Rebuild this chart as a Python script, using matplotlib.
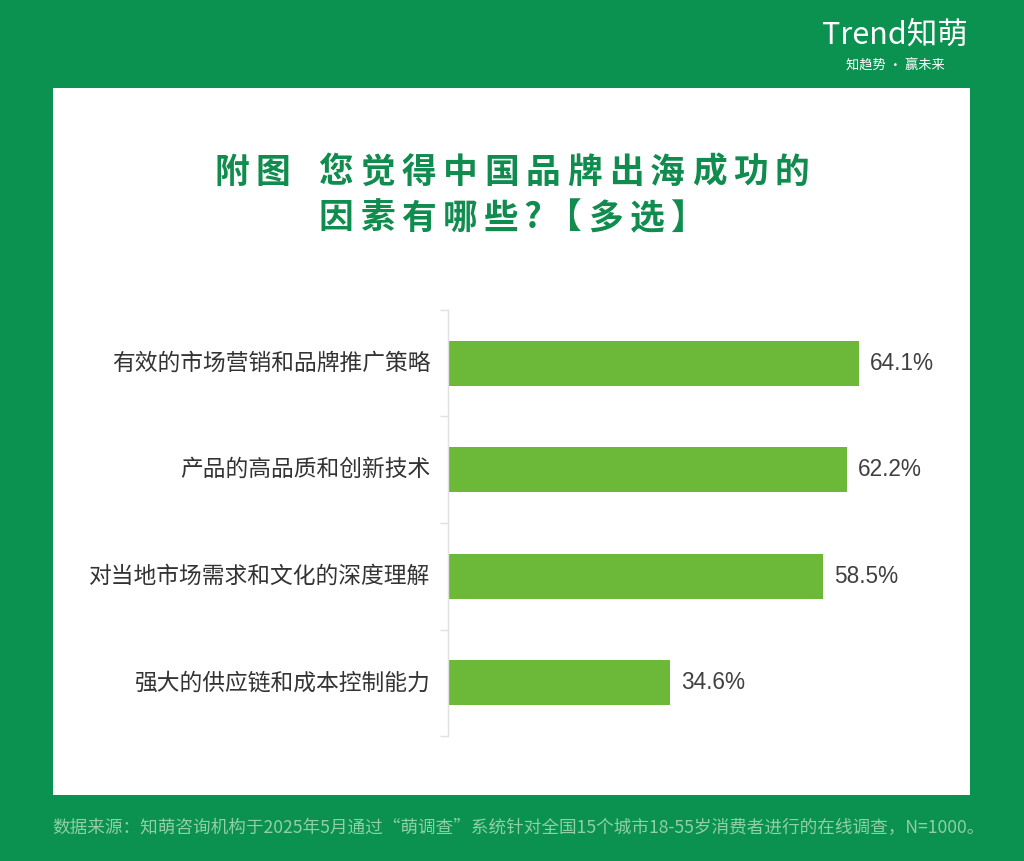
import matplotlib
matplotlib.use("Agg")
import matplotlib.pyplot as plt
from matplotlib.patches import Rectangle

plt.rcParams['font.family'] = ['Noto Sans CJK SC', 'DejaVu Sans']

categories = ["有效的市场营销和品牌推广策略", "产品的高品质和创新技术",
              "对当地市场需求和文化的深度理解", "强大的供应链和成本控制能力"]
values = [64.1, 62.2, 58.5, 34.6]
value_labels = ["64.1%", "62.2%", "58.5%", "34.6%"]
title_lines = ["附图 您觉得中国品牌出海成功的", "因素有哪些?【多选】"]
footer = "数据来源：知萌咨询机构于2025年5月通过“萌调查”系统针对全国15个城市18-55岁消费者进行的在线调查，N=1000。"

BG = "#0b9150"
BAR = "#6cb93a"
TITLE = "#118c4f"

W, H = 1024, 861
fig = plt.figure(figsize=(W/100, H/100), dpi=100, facecolor=BG)

# white panel
fig.patches.append(Rectangle((53/W, 1-795/H), (970-53)/W, (795-88)/H,
                             transform=fig.transFigure, facecolor="white",
                             edgecolor="none", zorder=-5))

# logo
fig.text(895/W, 1-35/H, "Trend知萌", color="white", fontsize=22, ha="center",
         va="center", fontweight="light")
fig.text(895/W, 1-66/H, "知趋势 · 赢未来", color="white", fontsize=9.5, ha="center",
         va="center")

# title with letter spacing
def spaced(line, y, adv=41.5):
    widths = []
    for ch in line:
        if ch in " ?":
            widths.append(adv*0.5)
        else:
            widths.append(adv)
    total = sum(widths)
    x = 512 - total/2
    for ch, w in zip(line, widths):
        if ch != " ":
            fig.text((x + w/2)/W, 1-y/H, ch, color=TITLE, fontsize=25,
                     fontweight="bold", ha="center", va="center")
        x += w

spaced(title_lines[0], 172)
spaced(title_lines[1], 218)

# chart axes
ax = fig.add_axes([448/W, 1-736/H, (961-448)/W, (736-310)/H])
ax.set_facecolor("none")
ax.set_zorder(2)
y = list(range(len(categories)))
ax.barh(y, values, height=0.42, color=BAR, zorder=2)
ax.set_xlim(0, 80)
ax.set_ylim(len(categories)-0.5, -0.5)
for sp in ["top", "right", "bottom"]:
    ax.spines[sp].set_visible(False)
ax.spines["left"].set_color("#e0e0e0")
ax.spines["left"].set_linewidth(1)
ax.set_xticks([])
ax.set_yticks([i - 0.5 for i in range(len(categories)+1)], minor=False)
ax.set_yticklabels([])
ax.tick_params(axis="y", length=6, color="#e0e0e0", width=1)
for i, c in enumerate(categories):
    ax.text(-0.034, i, c, transform=ax.get_yaxis_transform(), ha="right",
            va="center", fontsize=16.4, color="#333333")
for i, (v, lab) in enumerate(zip(values, value_labels)):
    ax.text(v + 1.7, i, lab, ha="left", va="center", fontsize=16.3,
            color="#404040", family=["Liberation Sans", "DejaVu Sans"])

# footer
fig.text(52/W, 1-828/H, footer, color="#8fd0a6", fontsize=12.7, ha="left", va="center")

fig.savefig("out.png", dpi=100, facecolor=BG)
